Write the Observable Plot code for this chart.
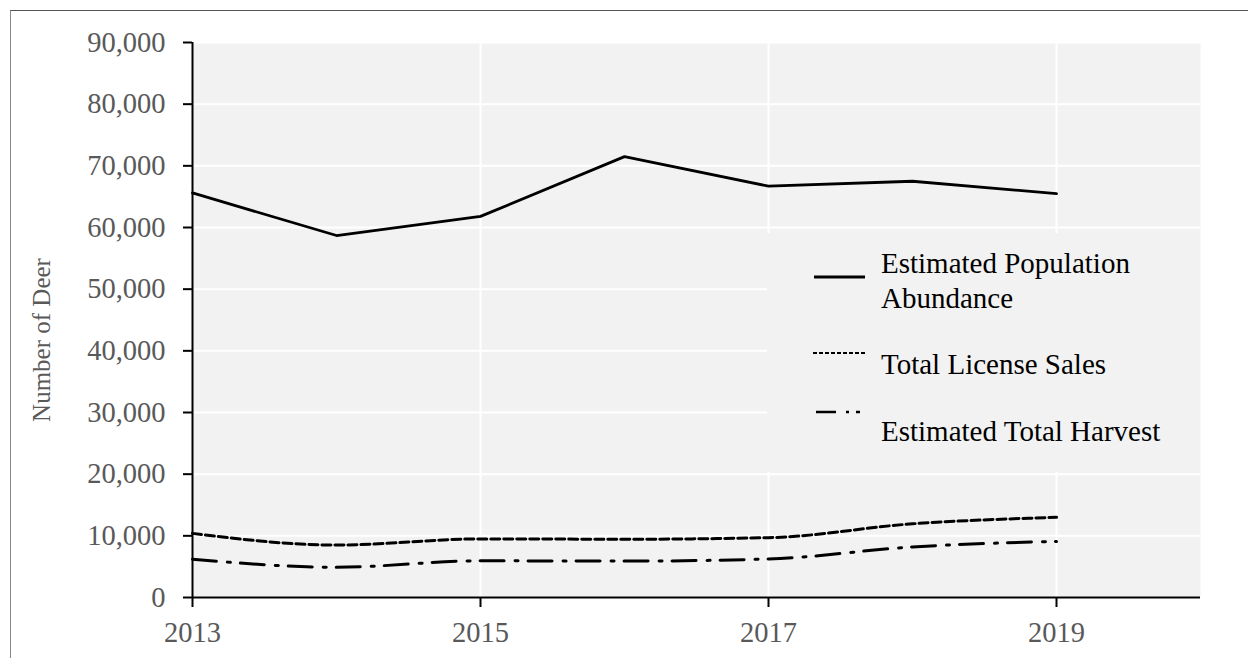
<!DOCTYPE html>
<html>
<head>
<meta charset="utf-8">
<script src="https://cdn.jsdelivr.net/npm/d3@7"></script>
<script src="https://cdn.jsdelivr.net/npm/@observablehq/plot@0.6"></script>
<style>
  html, body { margin: 0; padding: 0; background: #fff; }
  #wrap { position: relative; width: 1248px; height: 658px; overflow: hidden; font-family: 'Liberation Serif', 'Times New Roman', serif; }
  #border { position: absolute; left: 10px; top: 10px; width: 1400px; height: 800px; border-top: 1.5px solid #555; border-left: 1.5px solid #888; }
  #chart { position: absolute; left: 0; top: 0; }
  #ylabel { position: absolute; left: 42px; top: 340px; transform: translate(-50%, -50%) rotate(-90deg); white-space: nowrap; font-size: 25px; color: #595959; }
  #legend { position: absolute; left: 0; top: 0; }
</style>
</head>
<body>
<div id="wrap">
  <div id="border"></div>
  <div id="chart"></div>
  <div id="ylabel">Number of Deer</div>
  <svg id="legend" width="1248" height="658"></svg>
</div>
<script>
const years = [2013, 2014, 2015, 2016, 2017, 2018, 2019];
const population = [65600, 58700, 61800, 71500, 66700, 67500, 65500];
const licenseSales = [10400, 8500, 9500, 9450, 9700, 11950, 13000];
const harvest = [6200, 4900, 5950, 5900, 6250, 8200, 9100];
const yTicks = [0, 10000, 20000, 30000, 40000, 50000, 60000, 70000, 80000, 90000];
const xTicks = [2013, 2015, 2017, 2019];
const xGrid = [2015, 2017, 2019];
const seriesNames = ["Estimated Population Abundance", "Total License Sales", "Estimated Total Harvest"];

const popData = years.map((y, i) => ({year: y, value: population[i]}));
const licData = years.map((y, i) => ({year: y, value: licenseSales[i]}));
const harData = years.map((y, i) => ({year: y, value: harvest[i]}));

const chart = Plot.plot({
  width: 1248,
  height: 658,
  marginLeft: 192,
  marginRight: 48,
  marginTop: 42,
  marginBottom: 61,
  style: {fontFamily: "'Liberation Serif', 'Times New Roman', serif", fontSize: "28.5px", background: "transparent", overflow: "visible"},
  x: {domain: [2013, 2020]},
  y: {domain: [0, 90000]},
  marks: [
    Plot.frame({fill: "#f2f2f2", stroke: "none"}),
    Plot.gridY(yTicks, {stroke: "white", strokeOpacity: 1, strokeWidth: 2}),
    Plot.gridX(xGrid, {stroke: "white", strokeOpacity: 1, strokeWidth: 2}),
    Plot.line(popData, {x: "year", y: "value", stroke: "black", strokeWidth: 2.8}),
    Plot.line(licData, {x: "year", y: "value", stroke: "black", strokeWidth: 3, strokeDasharray: "9,4", curve: "monotone-x"}),
    Plot.line(harData, {x: "year", y: "value", stroke: "black", strokeWidth: 3, strokeDasharray: "24,11,3,10", curve: "monotone-x"}),
    Plot.ruleY([0], {stroke: "black", strokeWidth: 2}),
    Plot.ruleX([2013], {stroke: "black", strokeWidth: 2}),
    Plot.axisY({ticks: yTicks, tickFormat: d3.format(","), tickSize: 9, tickPadding: 18, fill: "#595959", stroke: "black", strokeWidth: 2, label: null}),
    Plot.axisX({ticks: xTicks, tickFormat: d => String(d), tickSize: 10, tickPadding: 14, fill: "#595959", stroke: "black", strokeWidth: 2, label: null})
  ]
});
document.getElementById("chart").appendChild(chart);

// Legend
const leg = d3.select("#legend");
leg.append("rect").attr("x", 767).attr("y", 233).attr("width", 433).attr("height", 239).attr("fill", "#f2f2f2");
const legItems = [
  {lines: ["Estimated Population", "Abundance"], sampleY: 277, baseline: 273, dash: null, x1: 814, width: 2.8},
  {lines: ["Total License Sales"], sampleY: 353, baseline: 374, dash: "4,2", x1: 813, width: 1.8},
  {lines: ["Estimated Total Harvest"], sampleY: 412, baseline: 441, dash: "20,10,3,7,4,100", x1: 816, width: 2.4}
];
legItems.forEach((it, k) => {
  leg.append("line").attr("x1", it.x1).attr("x2", 865).attr("y1", it.sampleY).attr("y2", it.sampleY)
    .attr("stroke", "black").attr("stroke-width", it.width)
    .attr("stroke-dasharray", it.dash);
  const t = leg.append("text").attr("x", 881).attr("y", it.baseline)
    .attr("font-family", "'Liberation Serif', 'Times New Roman', serif").attr("font-size", 29).attr("fill", "black");
  it.lines.forEach((ln, j) => t.append("tspan").attr("x", 881).attr("dy", j === 0 ? 0 : 34.5).text(ln));
});
</script>
</body>
</html>
